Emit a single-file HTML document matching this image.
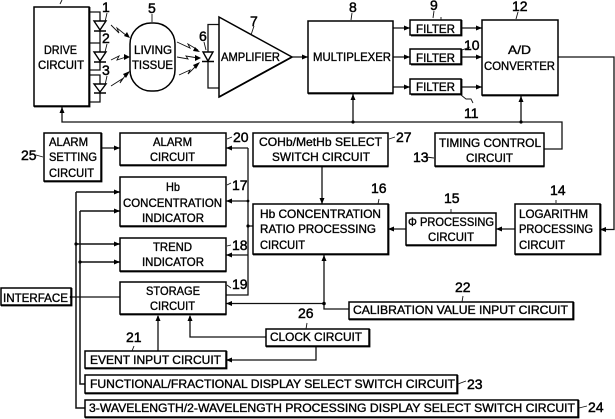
<!DOCTYPE html>
<html><head><meta charset="utf-8"><style>
html,body{margin:0;padding:0;background:#fff}
svg{display:block}
text{font-family:"Liberation Sans",sans-serif;font-size:12px;fill:#000;stroke:#000;stroke-width:.35}
.n{font-size:14px;stroke-width:.45}
.b{fill:#fff;stroke:#000;stroke-width:1.5}
.s{fill:none;stroke:#000;stroke-width:1.8}
.w{fill:none;stroke:#111;stroke-width:1.3}
.l{fill:none;stroke:#111;stroke-width:.9}
.a{fill:#000;stroke:none}
</style></head><body>
<svg width="615" height="419" viewBox="0 0 615 419" xmlns="http://www.w3.org/2000/svg">
<rect width="615" height="419" fill="#fff"/>
<!-- wires -->
<g class="w">
<path d="M89 12H100V21M100 31V43H89M100 43V52M100 62V70H89M89 75H100V84M100 93V102H89"/>
<path d="M208 52V24.500H219M208 61V88H219"/>
<path d="M292 57H308M393 28H410M393 57H410M393 87H410M461 28H482M461 57H482M461 87H482"/>
<path d="M558 57H614V229.500H600"/>
<path d="M62 106V122H562V149H544M353 93V122M521 95V122"/>
<path d="M101 148H120M248 148H226M248 148V295H226M248 201H226M248 255H226M248 226H253"/>
<path d="M322 166V204M515 229H496M406 229H388"/>
<path d="M324 254V309H349M226 303.500H324"/>
<path d="M266 337H190V316M316 346V360H226M158 351V316"/>
<path d="M71 297H120"/>
<path d="M76 192H120M80 211H120M76 244H120M80 262H120M76 192V408H85M80 211V384H85" stroke-width="1.5"/>
</g>
<!-- boxes -->
<g class="b">
<rect x="34" y="7" width="55" height="99"/>
<rect x="130" y="23" width="45" height="68" rx="21" ry="21"/>
<path d="M219 17L292 57L219 97Z"/>
<rect x="308" y="21" width="85" height="72"/>
<rect x="410" y="20" width="51" height="15"/>
<rect x="410" y="49" width="51" height="15"/>
<rect x="410" y="79" width="51" height="15"/>
<rect x="482" y="20" width="76" height="75"/>
<rect x="435" y="133" width="109" height="33"/>
<rect x="44" y="133" width="57" height="48"/>
<rect x="120" y="133" width="106" height="32"/>
<rect x="120" y="177" width="106" height="49"/>
<rect x="120" y="238" width="106" height="33"/>
<rect x="120" y="282" width="106" height="32"/>
<rect x="253" y="133" width="135" height="33"/>
<rect x="253" y="204" width="135" height="50"/>
<rect x="406" y="213" width="90" height="32"/>
<rect x="515" y="204" width="85" height="50"/>
<rect x="1" y="288" width="70" height="17"/>
<rect x="349" y="302" width="224" height="17"/>
<rect x="266" y="329" width="103" height="17"/>
<rect x="85" y="351" width="141" height="17"/>
<rect x="85" y="375" width="372" height="18"/>
<rect x="85" y="400" width="493" height="17"/>
</g>
<path class="s" d="M34 106.500H89.500V7M219 97L292 57M308 93.500H393.500M411 35.500H461.500V20M411 64.500H461.500V49M411 94.500H461.500V79M482 95.500H558.500M435 166.500H544.500M44 181.500H101.500V133M120 165.500H226.500M120 226.500H226.500M120 271.500H226.500M120 314.500H226.500M253 166.500H388.500M253 254.500H388.500V204M406 245.500H496.500M515 254.500H600.500V204M1 305.500H71.500V288M349 319.500H573.500V302M266 346.500H369.500V329M85 368.500H226.500V351M85 393.500H457.500V375M85 417.500H578.500V400"/>
<!-- diodes -->
<g fill="#fff" stroke="#000" stroke-width="1.4">
<path d="M94 21H106L100 30ZM94 31H106"/>
<path d="M94 52H106L100 61ZM94 62H106"/>
<path d="M94 84H106L100 92ZM94 93H106"/>
<path d="M203 52H213L208 61ZM202 61.500H214"/>
</g>
<!-- light rays -->
<g class="l">
<path d="M111 25L119 33L117 28L127 36"/>
<path d="M111 60L119 56L117 60L126 57"/>
<path d="M111 86L122 79L120 83L127 73"/>
<path d="M177 42L190 48L188 44L198 50"/>
<path d="M177 57L188 59L186 56L198 58"/>
<path d="M179 75L190 70L188 74L198 64"/>
</g>
<!-- arrowheads -->
<g class="a">
<path d="M130 38L124 36L127 32Z"/><path d="M130 57L124 54V60Z"/><path d="M130 71L126 78L123 74Z"/>
<path d="M200 52L193 51L195 47Z"/><path d="M201 58L195 55V61Z"/><path d="M200 62L196 69L193 65Z"/>
<path d="M308 57L302 54.500V59.500Z"/>
<path d="M410 28L404 25.500V30.500Z"/><path d="M410 57L404 54.500V59.500Z"/><path d="M410 87L404 84.500V89.500Z"/>
<path d="M482 28L476 25.500V30.500Z"/><path d="M482 57L476 54.500V59.500Z"/><path d="M482 87L476 84.500V89.500Z"/>
<path d="M62 107L59.500 113H64.500Z"/><path d="M353 94L350.500 100H355.500Z"/><path d="M521 96L518.500 102H523.500Z"/>
<path d="M120 148L114 145.500V150.500Z"/><path d="M226 148L232 145.500V150.500Z"/><path d="M226 201L232 198.500V203.500Z"/><path d="M226 255L232 252.500V257.500Z"/><path d="M226 303.500L232 301V306Z"/>
<path d="M120 192L114 189.500V194.500Z"/><path d="M120 211L114 208.500V213.500Z"/><path d="M120 244L114 241.500V246.500Z"/><path d="M120 262L114 259.500V264.500Z"/>
<path d="M322 204L319.500 198H324.500Z"/><path d="M324 255L321.500 261H326.500Z"/>
<path d="M388 229L394 226.500V231.500Z"/><path d="M496 229L502 226.500V231.500Z"/><path d="M600 229.500L606 227V232Z"/>
<path d="M190 315L187.500 321H192.500Z"/><path d="M158 315L155.500 321H160.500Z"/><path d="M226 360L232 357.500V362.500Z"/>
<circle cx="76" cy="244" r="1.600"/><circle cx="80" cy="262" r="1.600"/><circle cx="248" cy="226" r="1.600"/><circle cx="324" cy="303.500" r="1.800"/><circle cx="353" cy="122" r="1.600"/><circle cx="521" cy="122" r="1.600"/><circle cx="248" cy="201" r="1.400"/><circle cx="71" cy="297" r="1.300"/>
</g>
<!-- leaders -->
<g class="l">
<path d="M60 4L62 0M107 13L105 22M107 44L105 52M107 76L105 85M152 14L152 22M254 26L251 35M204 42L206 50M352 13L351 20M434 11L433 18M518 12L516 19M462 50L470 47M461 95L466 99H471L473 103"/>
<path d="M36 155L43 157M426 157L434 158M395 137L389 139M227 139L232 137M227 185L231 183M227 246L231 245M227 285L231 288M458 384L466 381M579 408L587 406M441 20L441 17M556 203L556 200M451 213L451 209M378 204L379 199M132 351L134 346M462 302L463 296M306 329L307 323"/>
</g>
<!-- labels -->
<g>
<text x="44" y="54" textLength="33" lengthAdjust="spacingAndGlyphs">DRIVE</text>
<text x="38" y="69" textLength="46" lengthAdjust="spacingAndGlyphs">CIRCUIT</text>
<text x="134" y="54" textLength="38" lengthAdjust="spacingAndGlyphs">LIVING</text>
<text x="132" y="69" textLength="41" lengthAdjust="spacingAndGlyphs">TISSUE</text>
<text x="221" y="61" textLength="59" lengthAdjust="spacingAndGlyphs">AMPLIFIER</text>
<text x="313" y="61" textLength="78" lengthAdjust="spacingAndGlyphs">MULTIPLEXER</text>
<text x="416" y="33" textLength="39" lengthAdjust="spacingAndGlyphs">FILTER</text>
<text x="416" y="62" textLength="39" lengthAdjust="spacingAndGlyphs">FILTER</text>
<text x="416" y="91" textLength="39" lengthAdjust="spacingAndGlyphs">FILTER</text>
<text x="508" y="54" textLength="23" lengthAdjust="spacingAndGlyphs">A/D</text>
<text x="484" y="70" textLength="71" lengthAdjust="spacingAndGlyphs">CONVERTER</text>
<text x="49" y="146" textLength="39" lengthAdjust="spacingAndGlyphs">ALARM</text>
<text x="49" y="161" textLength="48" lengthAdjust="spacingAndGlyphs">SETTING</text>
<text x="49" y="177" textLength="45" lengthAdjust="spacingAndGlyphs">CIRCUIT</text>
<text x="153" y="146" textLength="39" lengthAdjust="spacingAndGlyphs">ALARM</text>
<text x="150" y="161" textLength="45" lengthAdjust="spacingAndGlyphs">CIRCUIT</text>
<text x="166" y="191" textLength="14" lengthAdjust="spacingAndGlyphs">Hb</text>
<text x="123" y="207" textLength="99" lengthAdjust="spacingAndGlyphs">CONCENTRATION</text>
<text x="142" y="222" textLength="62" lengthAdjust="spacingAndGlyphs">INDICATOR</text>
<text x="153" y="251" textLength="39" lengthAdjust="spacingAndGlyphs">TREND</text>
<text x="142" y="266" textLength="62" lengthAdjust="spacingAndGlyphs">INDICATOR</text>
<text x="146" y="295" textLength="54" lengthAdjust="spacingAndGlyphs">STORAGE</text>
<text x="150" y="310" textLength="45" lengthAdjust="spacingAndGlyphs">CIRCUIT</text>
<text x="3" y="302" textLength="65" lengthAdjust="spacingAndGlyphs">INTERFACE</text>
<text x="90" y="364" textLength="131" lengthAdjust="spacingAndGlyphs">EVENT INPUT CIRCUIT</text>
<text x="90" y="388" textLength="365" lengthAdjust="spacingAndGlyphs">FUNCTIONAL/FRACTIONAL DISPLAY SELECT SWITCH CIRCUIT</text>
<text x="89" y="412" textLength="486" lengthAdjust="spacingAndGlyphs">3-WAVELENGTH/2-WAVELENGTH PROCESSING DISPLAY SELECT SWITCH CIRCUIT</text>
<text x="353" y="314" textLength="215" lengthAdjust="spacingAndGlyphs">CALIBRATION VALUE INPUT CIRCUIT</text>
<text x="270" y="341" textLength="92" lengthAdjust="spacingAndGlyphs">CLOCK CIRCUIT</text>
<text x="259" y="146" textLength="123" lengthAdjust="spacingAndGlyphs">COHb/MetHb SELECT</text>
<text x="272" y="161" textLength="98" lengthAdjust="spacingAndGlyphs">SWITCH CIRCUIT</text>
<text x="260" y="218" textLength="121" lengthAdjust="spacingAndGlyphs">Hb CONCENTRATION</text>
<text x="260" y="233" textLength="116" lengthAdjust="spacingAndGlyphs">RATIO PROCESSING</text>
<text x="260" y="249" textLength="45" lengthAdjust="spacingAndGlyphs">CIRCUIT</text>
<text x="408" y="226" textLength="86" lengthAdjust="spacingAndGlyphs">Φ PROCESSING</text>
<text x="428" y="241" textLength="46" lengthAdjust="spacingAndGlyphs">CIRCUIT</text>
<text x="439" y="147" textLength="102" lengthAdjust="spacingAndGlyphs">TIMING CONTROL</text>
<text x="466" y="162" textLength="47" lengthAdjust="spacingAndGlyphs">CIRCUIT</text>
<text x="519" y="218" textLength="69" lengthAdjust="spacingAndGlyphs">LOGARITHM</text>
<text x="519" y="233" textLength="74" lengthAdjust="spacingAndGlyphs">PROCESSING</text>
<text x="519" y="249" textLength="46" lengthAdjust="spacingAndGlyphs">CIRCUIT</text>
</g>
<g>
<text class="n" x="102" y="12">1</text>
<text class="n" x="102" y="43">2</text>
<text class="n" x="102" y="75">3</text>
<text class="n" x="148" y="13">5</text>
<text class="n" x="199" y="41">6</text>
<text class="n" x="250" y="26">7</text>
<text class="n" x="349" y="12">8</text>
<text class="n" x="430" y="10">9</text>
<text class="n" x="512" y="11">12</text>
<text class="n" x="464" y="50">10</text>
<text class="n" x="464" y="118">11</text>
<text class="n" x="233" y="142">20</text>
<text class="n" x="232" y="190">17</text>
<text class="n" x="232" y="250">18</text>
<text class="n" x="232" y="289">19</text>
<text class="n" x="21" y="160">25</text>
<text class="n" x="396" y="142">27</text>
<text class="n" x="413" y="162">13</text>
<text class="n" x="550" y="195">14</text>
<text class="n" x="444" y="203">15</text>
<text class="n" x="371" y="193">16</text>
<text class="n" x="126" y="342">21</text>
<text class="n" x="298" y="318">26</text>
<text class="n" x="455" y="292">22</text>
<text class="n" x="467" y="389">23</text>
<text class="n" x="588" y="412">24</text>
</g>
</svg>
</body></html>
